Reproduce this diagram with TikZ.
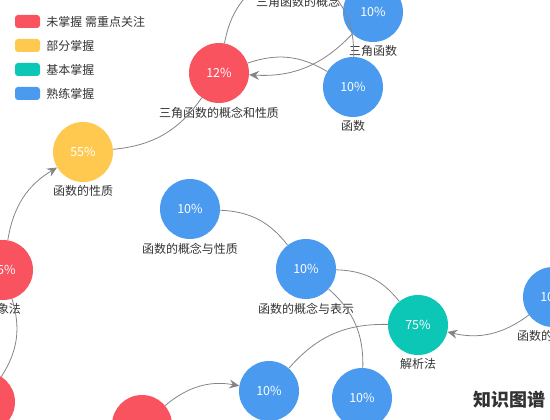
\documentclass[tikz,border=0pt]{standalone}
\usepackage{fontspec}
\setmainfont{Noto Sans CJK SC}
\usetikzlibrary{arrows.meta,positioning}
\definecolor{weak}{HTML}{F9535F}
\definecolor{part}{HTML}{FFC84F}
\definecolor{basic}{HTML}{0CC7B6}
\definecolor{good}{HTML}{4A9BF0}
\definecolor{linkgray}{HTML}{858585}
\definecolor{ink}{HTML}{333333}

\begin{document}
\begin{tikzpicture}[x=1pt, y=1pt,
    kp/.style={circle, minimum size=60pt, inner sep=0pt, text=white,
      font=\fontsize{12.5}{14}\selectfont},
    every label/.style={font=\fontsize{12}{14}\selectfont, text=ink},
    label distance=0pt,
    link/.style={draw=linkgray, line width=0.8pt, bend left=25},
    dir/.style={link, -{Stealth[length=10pt, width=9pt, inset=3.5pt]}},
    key/.style={rounded corners=3pt, minimum width=25pt, minimum height=13pt, inner sep=0pt},
    keytext/.style={font=\fontsize{12}{14}\selectfont, text=ink, inner sep=0pt}]
  \useasboundingbox (0,0) rectangle (550,420);
  \clip (0,0) rectangle (550,420);
  % Legend
  \foreach \y/\c/\t [count=\n] in {398.5/weak/未掌握 需重点关注, 374.5/part/部分掌握,
      350.5/basic/基本掌握, 326.5/good/熟练掌握} {
    \node[key, fill=\c] (key\n) at (27.5,\y) {};
    \node[keytext, right=6pt of key\n] (keylab\n) {\t};
  }
  % Knowledge points
  \node[kp, fill=good, label=below:三角函数的概念] (triconcept) at (298,458) {};
  \node[kp, fill=good, label=below:三角函数] (trig) at (373,408) {10\%};
  \node[kp, fill=weak, label=below:三角函数的概念和性质] (trimain) at (219,347) {12\%};
  \node[kp, fill=good, label=below:函数] (func) at (353,333) {10\%};
  \node[kp, fill=part, label=below:函数的性质] (prop) at (83,268) {55\%};
  \node[kp, fill=weak, label=below:图象法] (graphm) at (3,150) {15\%};
  \node[kp, fill=weak] (lowred) at (-15,18) {};
  \node[kp, fill=good, label=below:函数的概念与性质] (conceptprop) at (190,211) {10\%};
  \node[kp, fill=good, label=below:函数的概念与表示] (conceptrep) at (306,151) {10\%};
  \node[kp, fill=basic, label=below:解析法] (analytic) at (418,95) {75\%};
  \node[kp, fill=good, label=below:函数的表示法] (repm) at (553,123) {10\%};
  \node[kp, fill=weak] (botred) at (142,-5) {};
  \node[kp, fill=good] (listm) at (269,29) {10\%};
  \node[kp, fill=good] (lowblue) at (362,22) {10\%};
  % Links
  \draw[dir] (trig) to (trimain);
  \draw[link] (trimain) to (triconcept);
  \draw[link] (triconcept) to (func);
  \draw[link] (trimain) to (func);
  \draw[link] (trimain) to (prop);
  \draw[dir] (graphm) to (prop);
  \draw[link] (graphm) to (lowred);
  \draw[dir] (botred) to (listm);
  \draw[link] (listm) to (analytic);
  \draw[link] (conceptprop) to (conceptrep);
  \draw[link] (conceptrep) to (analytic);
  \draw[link] (conceptrep) to (lowblue);
  \draw[dir] (repm) to (analytic);
  % Title
  \node[font=\fontsize{18}{20}\selectfont\bfseries, text=ink] (title) at (509,20) {知识图谱};
\end{tikzpicture}
\end{document}
